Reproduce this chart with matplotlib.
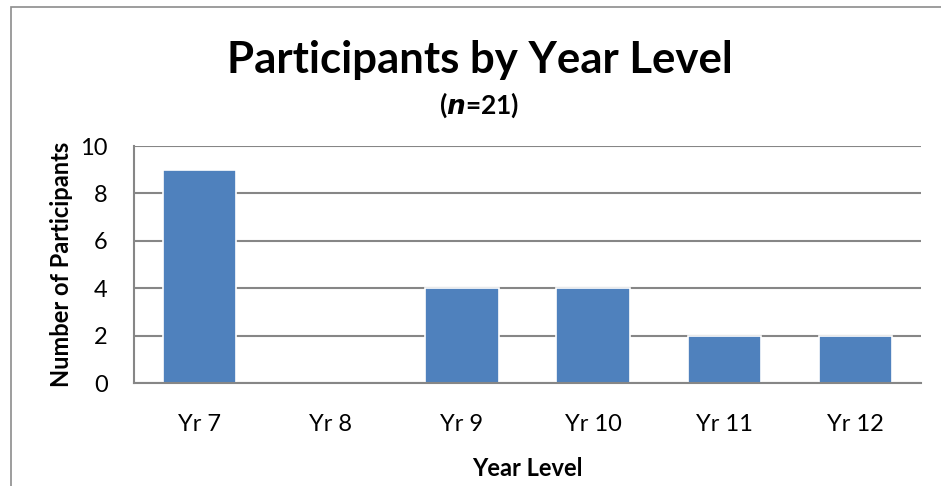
import matplotlib.pyplot as plt
import matplotlib.patches as mpatches

plt.rcParams['font.family'] = ['Lato', 'DejaVu Sans']

years = ['Yr 7', 'Yr 8', 'Yr 9', 'Yr 10', 'Yr 11', 'Yr 12']
participants = [9, 0, 4, 4, 2, 2]
y_ticks = [0, 2, 4, 6, 8, 10]

W, H = 941, 486
fig = plt.figure(figsize=(W / 100, H / 100), dpi=100)
ax = fig.add_axes([134 / W, 1 - 383 / H, (921 - 134) / W, (383 - 146) / H])

# outer chart border (as in Excel)
fig.patches.append(mpatches.Rectangle((11 / W, -0.05), 1.0, 1 - 7 / H + 0.05, transform=fig.transFigure,
                                      fill=False, edgecolor='#8c8c8c', linewidth=1.2))

x = range(len(years))
ax.bar(x, participants, width=0.56, color='#4F81BD', edgecolor='white', linewidth=1.2, zorder=3)

ax.set_xlim(-0.5, len(years) - 0.5)
ax.set_ylim(0, 10)
ax.set_yticks(y_ticks)
ax.set_xticks(list(x))
ax.set_xticklabels(years)
ax.grid(axis='y', color='#868686', linewidth=1.5, zorder=0)
ax.tick_params(axis='both', length=0, labelsize=17, colors='black')
ax.tick_params(axis='x', pad=22)
ax.tick_params(axis='y', pad=19)

for side in ['top', 'right']:
    ax.spines[side].set_visible(False)
for side in ['left', 'bottom']:
    ax.spines[side].set_color('#868686')
    ax.spines[side].set_linewidth(1.5)
    ax.spines[side].set_zorder(5)

ax.set_xlabel('Year Level', fontsize=17, fontweight='bold', labelpad=16)
ax.set_ylabel('Number of Participants', fontsize=17, fontweight='bold', labelpad=5)

fig.text(480 / W, 1 - 60 / H, 'Participants by Year Level', ha='center', va='center',
         fontsize=31.5, fontweight='bold')
fig.text(479 / W, 1 - 105 / H, r'($\mathbfit{n}$=21)', ha='center', va='center',
         fontsize=19, fontweight='bold')

fig.savefig('out.png', dpi=100, facecolor='white')
